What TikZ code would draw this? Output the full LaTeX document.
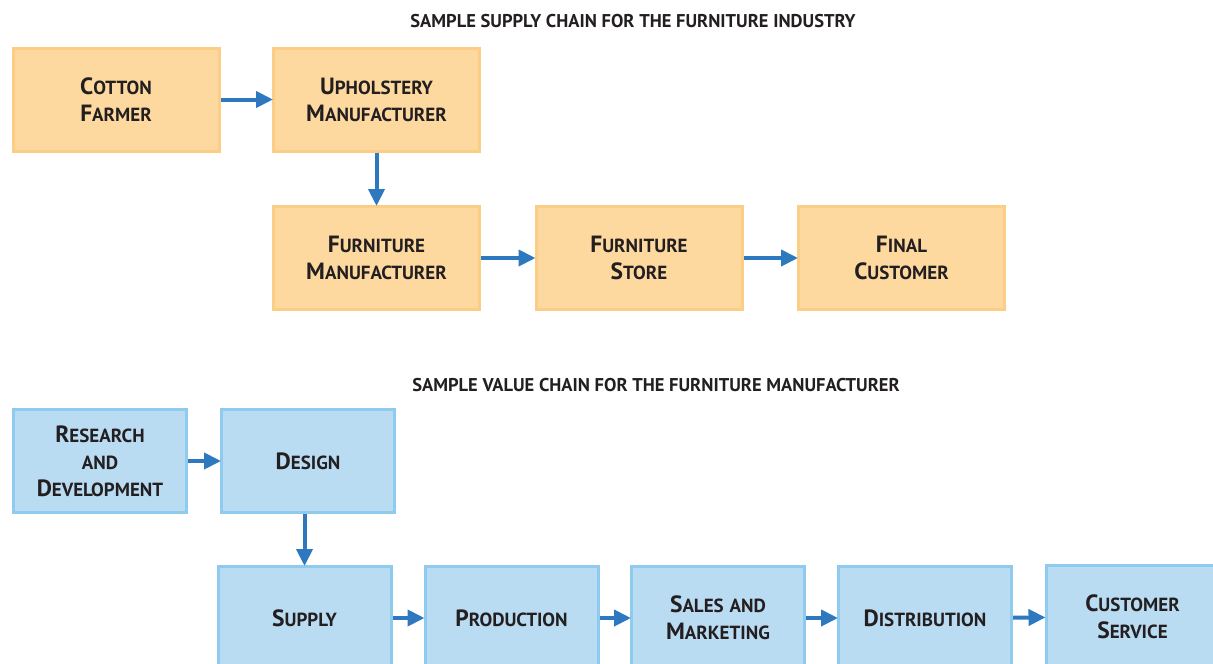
\documentclass[tikz,border=0pt]{standalone}
\usepackage{fontspec}
\setmainfont{PT Sans}
\usetikzlibrary{arrows.meta}
\definecolor{ofill}{HTML}{FDD9A0}
\definecolor{oline}{HTML}{FCCD85}
\definecolor{bfill}{HTML}{BADCF3}
\definecolor{bline}{HTML}{8FCBEE}
\definecolor{arr}{HTML}{2E78C0}
\definecolor{txt}{HTML}{231F20}
\newcommand\smsz{\fontsize{19}{27}\selectfont}
\newcommand\sck[2]{#1{\smsz #2}}
\tikzset{
  boxbase/.style={rectangle, line width=3pt, align=center, text=txt,
    font=\bfseries\fontsize{23.5}{27}\selectfont, inner sep=0pt},
  obox/.style={boxbase, draw=oline, fill=ofill, minimum width=206pt, minimum height=103pt},
  bbox/.style={boxbase, draw=bline, fill=bfill, minimum width=173pt, minimum height=103pt},
  flow/.style={draw=arr, line width=4pt, -{Triangle[length=17pt,width=16pt]}, shorten >=-1pt},
  ttl/.style={text=txt, font=\bfseries\fontsize{18.5}{20}\selectfont, inner sep=0pt}
}
\begin{document}
\begin{tikzpicture}[x=1pt,y=-1pt]
\useasboundingbox (0,0) rectangle (1213,664);
\clip (0,0) rectangle (1213,664);
\node[ttl] (t1) at (633,21) {SAMPLE SUPPLY CHAIN FOR THE FURNITURE INDUSTRY};
\node[obox] (cf) at (116,99.5) {\sck{C}{OTTON}\\\sck{F}{ARMER}};
\node[obox] (um) at (376.5,99.5) {\sck{U}{PHOLSTERY}\\\sck{M}{ANUFACTURER}};
\node[obox] (fm) at (376.5,258) {\sck{F}{URNITURE}\\\sck{M}{ANUFACTURER}};
\node[obox] (fs) at (639,258) {\sck{F}{URNITURE}\\\sck{S}{TORE}};
\node[obox] (fc) at (901.5,258) {\sck{F}{INAL}\\\sck{C}{USTOMER}};
\draw[flow] (cf) -- (um);
\draw[flow] (um) -- (fm);
\draw[flow] (fm) -- (fs);
\draw[flow] (fs) -- (fc);
\node[ttl] (t2) at (656,385) {SAMPLE VALUE CHAIN FOR THE FURNITURE MANUFACTURER};
\node[bbox] (rd) at (100,461) {\sck{R}{ESEARCH}\\{\smsz AND}\\\sck{D}{EVELOPMENT}};
\node[bbox] (de) at (308,461) {\sck{D}{ESIGN}};
\node[bbox] (su) at (304.5,618) {\sck{S}{UPPLY}};
\node[bbox] (pr) at (511.5,618) {\sck{P}{RODUCTION}};
\node[bbox] (sm) at (718,618) {\sck{S}{ALES} {\smsz AND}\\\sck{M}{ARKETING}};
\node[bbox] (di) at (925,618) {\sck{D}{ISTRIBUTION}};
\node[bbox] (cs) at (1132.5,617) {\sck{C}{USTOMER}\\\sck{S}{ERVICE}};
\draw[flow] (rd) -- (de);
\draw[flow] (de.south -| su) -- (su.north);
\draw[flow] (su) -- (pr);
\draw[flow] (pr) -- (sm);
\draw[flow] (sm) -- (di);
\draw[flow] (di) -- (cs);
\end{tikzpicture}
\end{document}
